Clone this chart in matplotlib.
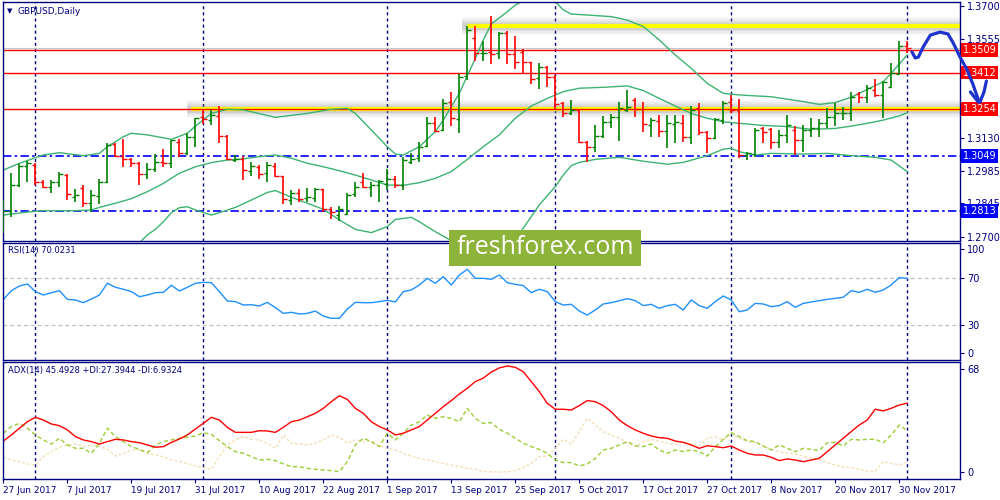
import numpy as np
import matplotlib
matplotlib.use("Agg")
import matplotlib.pyplot as plt
from matplotlib.patches import Rectangle
from matplotlib.transforms import blended_transform_factory

# ---- daily GBPUSD bars, 27 Jun 2017 .. 1 Dec 2017 ----
opens = [1.2745, 1.2814, 1.2925, 1.3009, 1.3013, 1.2937, 1.2915, 1.2936, 1.2970, 1.2875,
         1.2911, 1.2846, 1.2879, 1.2937, 1.3101, 1.3051, 1.3036, 1.3019, 1.2973, 1.2993,
         1.3025, 1.3022, 1.3113, 1.3062, 1.3134, 1.3218, 1.3206, 1.3224, 1.3137, 1.3033,
         1.3036, 1.2987, 1.3005, 1.2976, 1.3009, 1.2964, 1.2860, 1.2892, 1.2867, 1.2867,
         1.2906, 1.2820, 1.2795, 1.2798, 1.2885, 1.2936, 1.2918, 1.2925, 1.2928, 1.2950,
         1.2925, 1.3026, 1.3041, 1.3094, 1.3195, 1.3163, 1.3286, 1.3209, 1.3397, 1.3560,
         1.3495, 1.3499, 1.3495, 1.3582, 1.3492, 1.3502, 1.3456, 1.3387, 1.3437, 1.3394,
         1.3279, 1.3235, 1.3250, 1.3113, 1.3091, 1.3137, 1.3199, 1.3221, 1.3250, 1.3293,
         1.3253, 1.3185, 1.3202, 1.3159, 1.3189, 1.3195, 1.3134, 1.3257, 1.3156, 1.3127,
         1.3206, 1.3286, 1.3250, 1.3054, 1.3059, 1.3170, 1.3166, 1.3113, 1.3142, 1.3163,
         1.3120, 1.3163, 1.3170, 1.3192, 1.3221, 1.3235, 1.3238, 1.3319, 1.3305, 1.3336,
         1.3315, 1.3351, 1.3406, 1.3527]
highs = [1.2860, 1.2976, 1.3015, 1.3028, 1.3019, 1.2947, 1.2947, 1.2980, 1.2973, 1.2906,
         1.2925, 1.2903, 1.2951, 1.3108, 1.3108, 1.3124, 1.3041, 1.3026, 1.3019, 1.3058,
         1.3081, 1.3122, 1.3123, 1.3149, 1.3217, 1.3250, 1.3250, 1.3267, 1.3142, 1.3055,
         1.3051, 1.3026, 1.3012, 1.3026, 1.3019, 1.2966, 1.2903, 1.2906, 1.2913, 1.2913,
         1.2908, 1.2831, 1.2834, 1.2889, 1.2940, 1.2976, 1.2936, 1.2947, 1.2993, 1.2964,
         1.3048, 1.3062, 1.3113, 1.3221, 1.3221, 1.3297, 1.3326, 1.3406, 1.3613, 1.3615,
         1.3550, 1.3658, 1.3586, 1.3593, 1.3570, 1.3514, 1.3459, 1.3455, 1.3440, 1.3401,
         1.3286, 1.3293, 1.3252, 1.3117, 1.3185, 1.3224, 1.3231, 1.3286, 1.3336, 1.3303,
         1.3286, 1.3214, 1.3228, 1.3228, 1.3228, 1.3228, 1.3267, 1.3279, 1.3158, 1.3214,
         1.3289, 1.3315, 1.3297, 1.3069, 1.3170, 1.3178, 1.3173, 1.3163, 1.3228, 1.3180,
         1.3185, 1.3214, 1.3209, 1.3260, 1.3282, 1.3264, 1.3329, 1.3329, 1.3358, 1.3384,
         1.3375, 1.3452, 1.3549, 1.3549]
lows = [1.2716, 1.2788, 1.2918, 1.2940, 1.2925, 1.2911, 1.2889, 1.2918, 1.2860, 1.2853,
        1.2828, 1.2807, 1.2843, 1.2935, 1.3048, 1.3005, 1.3005, 1.2925, 1.2950, 1.2983,
        1.3005, 1.2997, 1.3048, 1.3055, 1.3091, 1.3188, 1.3185, 1.3108, 1.3033, 1.3026,
        1.2947, 1.2964, 1.2950, 1.2940, 1.2961, 1.2843, 1.2839, 1.2850, 1.2850, 1.2853,
        1.2807, 1.2777, 1.2771, 1.2795, 1.2875, 1.2911, 1.2875, 1.2850, 1.2903, 1.2911,
        1.2903, 1.3016, 1.3026, 1.3091, 1.3156, 1.3160, 1.3180, 1.3149, 1.3380, 1.3462,
        1.3462, 1.3448, 1.3469, 1.3448, 1.3426, 1.3411, 1.3361, 1.3339, 1.3348, 1.3250,
        1.3218, 1.3228, 1.3105, 1.3023, 1.3069, 1.3127, 1.3170, 1.3117, 1.3243, 1.3221,
        1.3153, 1.3134, 1.3132, 1.3084, 1.3105, 1.3110, 1.3104, 1.3142, 1.3065, 1.3123,
        1.3188, 1.3238, 1.3041, 1.3033, 1.3048, 1.3105, 1.3081, 1.3084, 1.3105, 1.3055,
        1.3069, 1.3132, 1.3132, 1.3170, 1.3180, 1.3206, 1.3204, 1.3282, 1.3279, 1.3308,
        1.3214, 1.3344, 1.3406, 1.3498]
closes = [1.2814, 1.2925, 1.3009, 1.3019, 1.2937, 1.2918, 1.2940, 1.2973, 1.2886, 1.2882,
          1.2849, 1.2882, 1.2937, 1.3098, 1.3051, 1.3036, 1.3019, 1.2973, 1.2993, 1.3026,
          1.3022, 1.3120, 1.3065, 1.3134, 1.3214, 1.3209, 1.3228, 1.3137, 1.3036, 1.3039,
          1.2990, 1.3007, 1.2973, 1.3012, 1.2966, 1.2863, 1.2892, 1.2863, 1.2872, 1.2906,
          1.2820, 1.2810, 1.2821, 1.2882, 1.2918, 1.2918, 1.2925, 1.2943, 1.2950, 1.2925,
          1.3033, 1.3036, 1.3091, 1.3195, 1.3160, 1.3279, 1.3214, 1.3394, 1.3596, 1.3495,
          1.3498, 1.3492, 1.3582, 1.3492, 1.3459, 1.3456, 1.3383, 1.3437, 1.3394, 1.3276,
          1.3235, 1.3250, 1.3113, 1.3091, 1.3137, 1.3199, 1.3221, 1.3257, 1.3264, 1.3253,
          1.3189, 1.3206, 1.3159, 1.3192, 1.3196, 1.3134, 1.3250, 1.3156, 1.3127, 1.3209,
          1.3279, 1.3250, 1.3055, 1.3062, 1.3163, 1.3156, 1.3113, 1.3142, 1.3185, 1.3120,
          1.3163, 1.3170, 1.3192, 1.3221, 1.3235, 1.3238, 1.3308, 1.3305, 1.3344, 1.3315,
          1.3372, 1.3411, 1.3527, 1.3517]

# Bollinger bands (20) sampled along the chart: bar index -> price
bb_up_idx = [0, 2, 5, 7, 10, 12, 13, 15, 16, 18, 21, 23, 24, 26, 28, 30, 34, 38, 41, 43,
             44, 46, 48, 49, 50, 52, 54, 55, 57, 59, 60, 61, 63, 64, 66, 68, 69, 70, 71, 73,
             76, 78, 80, 82, 84, 86, 88, 90, 92, 96, 100, 102, 104, 106, 108, 110, 111, 113]
bb_up = [1.2990, 1.3019, 1.3055, 1.3065, 1.3052, 1.3062, 1.3091, 1.3134, 1.3149, 1.3142,
         1.3123, 1.3149, 1.3180, 1.3235, 1.3253, 1.3250, 1.3218, 1.3235, 1.3253, 1.3257,
         1.3235, 1.3163, 1.3091, 1.3059, 1.3055, 1.3091, 1.3156, 1.3206, 1.3322, 1.3473,
         1.3553, 1.3622, 1.3675, 1.3704, 1.3740, 1.3733, 1.3719, 1.3683, 1.3665, 1.3661,
         1.3654, 1.3639, 1.3611, 1.3553, 1.3488, 1.3430, 1.3365, 1.3322, 1.3315, 1.3307,
         1.3286, 1.3274, 1.3282, 1.3305, 1.3339, 1.3372, 1.3409, 1.3488]
bb_mid_idx = [0, 3, 5, 9, 11, 12, 14, 16, 18, 20, 22, 24, 26, 28, 30, 32, 34, 36, 38, 40,
              42, 44, 46, 48, 50, 52, 54, 56, 58, 60, 62, 64, 66, 68, 70, 72, 75, 78, 80, 82,
              84, 86, 88, 90, 92, 95, 98, 101, 104, 106, 108, 110, 112, 113]
bb_mid = [1.2795, 1.2808, 1.2814, 1.2814, 1.2817, 1.2828, 1.2846, 1.2866, 1.2896, 1.2932,
          1.2976, 1.3004, 1.3022, 1.3033, 1.3038, 1.3048, 1.3055, 1.3041, 1.3019, 1.3004,
          1.2987, 1.2968, 1.2947, 1.2925, 1.2924, 1.2935, 1.2954, 1.2983, 1.3036, 1.3091,
          1.3142, 1.3214, 1.3267, 1.3300, 1.3329, 1.3344, 1.3348, 1.3354, 1.3334, 1.3300,
          1.3267, 1.3235, 1.3214, 1.3199, 1.3192, 1.3183, 1.3178, 1.3166, 1.3170, 1.3180,
          1.3192, 1.3206, 1.3224, 1.3238]
bb_low_idx = [14, 16, 17, 18, 19, 20, 21, 22, 23, 24, 26, 27, 29, 31, 33, 34, 36, 38, 40, 42,
              44, 46, 48, 49, 51, 52, 54, 56, 58, 60, 62, 63, 65, 67, 69, 70, 71, 72, 74, 77,
              80, 83, 85, 88, 90, 91, 92, 94, 96, 100, 103, 106, 109, 111, 113]
bb_low = [1.2586, 1.2622, 1.2675, 1.2709, 1.2733, 1.2766, 1.2805, 1.2827, 1.2831, 1.2817,
          1.2795, 1.2805, 1.2828, 1.2860, 1.2893, 1.2901, 1.2872, 1.2846, 1.2820, 1.2774,
          1.2733, 1.2719, 1.2745, 1.2776, 1.2785, 1.2766, 1.2723, 1.2684, 1.2629, 1.2593,
          1.2601, 1.2644, 1.2738, 1.2839, 1.2918, 1.2968, 1.3009, 1.3023, 1.3036, 1.3045,
          1.3028, 1.3015, 1.3023, 1.3052, 1.3080, 1.3084, 1.3069, 1.3055, 1.3062, 1.3059,
          1.3062, 1.3052, 1.3045, 1.3033, 1.2983]

rsi = [52.1, 59.5, 63.5, 65.2, 58.7, 55.8, 57.8, 59.5, 52.1, 51.6,
       49.3, 52.4, 55.8, 65.8, 62.4, 60.7, 58.7, 54.4, 55.8, 57.8,
       58.1, 64.1, 59.2, 62.4, 65.8, 66.6, 66.3, 58.7, 50.7, 50.2,
       47.3, 47.6, 46.5, 49.6, 45.1, 40.2, 41.1, 39.7, 40.2, 42.2,
       37.9, 36.0, 36.0, 43.9, 49.6, 49.3, 49.3, 50.2, 51.3, 49.9,
       58.7, 60.1, 64.3, 70.0, 65.8, 71.4, 64.3, 72.8, 77.7, 70.0,
       70.0, 69.2, 72.8, 66.3, 64.9, 63.8, 57.8, 60.7, 58.7, 50.2,
       47.3, 47.9, 42.2, 38.8, 43.1, 48.2, 49.3, 51.0, 52.7, 51.0,
       46.8, 47.9, 44.5, 46.8, 47.9, 43.1, 51.6, 46.8, 44.5, 50.2,
       55.0, 51.6, 41.6, 43.1, 48.7, 48.2, 45.9, 46.8, 50.2, 45.3,
       48.7, 49.9, 51.0, 52.1, 53.0, 53.9, 59.5, 58.1, 60.7, 58.1,
       60.1, 64.3, 70.6, 70.0]

adx = [20.6, 24.6, 29.0, 33.3, 36.2, 34.4, 31.8, 30.7, 27.9, 23.5,
       21.3, 20.2, 18.6, 20.2, 21.7, 21.3, 20.2, 19.5, 18.0, 16.5,
       16.9, 19.7, 21.9, 24.6, 28.5, 32.2, 36.2, 34.4, 29.6, 26.3,
       26.3, 26.3, 27.4, 27.2, 26.3, 29.6, 33.3, 34.4, 36.6, 38.8,
       42.1, 46.5, 50.4, 48.0, 42.1, 38.8, 33.3, 30.1, 27.9, 24.6,
       25.7, 27.9, 30.1, 34.4, 38.8, 43.2, 47.2, 51.5, 55.3, 59.7,
       62.0, 66.0, 68.7, 70.0, 69.1, 66.2, 59.7, 53.1, 45.4, 41.5,
       41.5, 41.0, 43.9, 47.2, 46.5, 43.9, 39.9, 34.4, 30.7, 27.9,
       25.7, 23.9, 22.8, 22.4, 20.6, 19.7, 18.0, 15.8, 17.5, 16.9,
       16.2, 17.3, 14.7, 12.5, 11.4, 11.4, 9.9, 7.7, 8.8, 8.1,
       7.0, 8.1, 9.2, 13.6, 18.0, 22.4, 26.8, 31.1, 34.4, 41.5,
       40.4, 42.1, 44.3, 45.5]
plus_di = [25.7, 30.1, 32.2, 29.0, 24.6, 21.3, 18.6, 22.4, 18.0, 15.8,
           15.8, 12.5, 19.1, 29.0, 23.5, 20.2, 16.9, 15.1, 12.9, 18.0,
           20.2, 21.3, 22.4, 23.0, 23.9, 26.1, 25.0, 20.8, 16.9, 13.6,
           12.5, 10.3, 8.1, 8.6, 7.7, 5.5, 3.7, 3.7, 2.6, 2.0,
           1.5, 1.1, 0.4, 7.0, 18.0, 22.4, 20.2, 16.9, 25.7, 21.3,
           25.7, 31.1, 33.3, 37.7, 35.5, 36.6, 35.5, 33.3, 42.1, 35.5,
           32.2, 32.7, 28.3, 25.7, 22.4, 19.1, 16.9, 15.1, 12.5, 8.1,
           6.4, 6.4, 4.2, 5.5, 9.2, 14.7, 15.8, 18.0, 20.2, 17.5,
           16.9, 18.6, 14.7, 12.5, 14.7, 13.6, 14.7, 13.6, 10.7, 16.9,
           21.7, 26.1, 23.5, 20.8, 20.2, 17.3, 14.7, 18.0, 15.8, 13.6,
           15.8, 15.1, 14.3, 19.5, 19.7, 17.3, 21.7, 21.3, 21.7, 21.7,
           19.5, 24.6, 31.1, 27.4]
minus_di = [9.9, 8.1, 7.0, 5.5, 4.8, 10.3, 13.6, 16.5, 18.0, 18.6,
            17.3, 18.0, 16.9, 15.1, 10.7, 12.5, 14.7, 14.7, 12.5, 11.4,
            10.3, 8.1, 7.0, 5.9, 4.2, 3.1, 2.0, 10.3, 18.0, 21.3,
            23.5, 21.7, 21.3, 19.1, 15.8, 24.6, 19.1, 18.6, 18.0, 19.1,
            21.3, 24.6, 23.0, 19.1, 21.3, 20.2, 20.6, 17.3, 15.8, 14.7,
            12.5, 10.7, 9.2, 8.1, 7.0, 5.9, 4.8, 3.7, 2.6, 2.0,
            0.5, 0.3, 0.2, 0.3, 1.1, 3.1, 5.9, 10.3, 10.7, 15.8,
            21.7, 18.6, 26.8, 35.5, 31.1, 26.8, 24.6, 22.4, 19.5, 16.9,
            20.2, 21.7, 20.2, 19.1, 18.6, 20.2, 18.6, 17.3, 22.4, 23.5,
            21.3, 25.7, 22.4, 20.2, 19.5, 17.3, 15.1, 13.6, 12.5, 12.1,
            10.7, 9.2, 8.6, 6.4, 4.8, 3.7, 3.1, 2.0, 0.9, 0.5,
            7.0, 5.9, 4.8, 6.9]

date_idx = [0, 8, 16, 24, 32, 40, 48, 56, 64, 72, 80, 88, 96, 104, 112]
date_labels = ["27 Jun 2017", "7 Jul 2017", "19 Jul 2017", "31 Jul 2017", "10 Aug 2017",
               "22 Aug 2017", "1 Sep 2017", "13 Sep 2017", "25 Sep 2017", "5 Oct 2017",
               "17 Oct 2017", "27 Oct 2017", "8 Nov 2017", "20 Nov 2017", "30 Nov 2017"]
month_starts = [4, 25, 48, 69, 91, 113]

price_ticks = [1.3700, 1.3555, 1.3130, 1.2985, 1.2845, 1.2700]
red_levels = [1.3509, 1.3412, 1.3254]
blue_levels = [1.3049, 1.2813]
yellow_levels = [1.3612, 1.3256]
yellow_start = [57.9, 23.5]

# hand drawn forecast arrow (bar index, price)
arrow_x = [113.6, 114.0, 114.4, 115.0, 115.9, 117.1, 118.1, 118.75, 119.6, 120.5, 121.25, 121.9]
arrow_y = [1.3501, 1.3475, 1.3479, 1.3523, 1.3574, 1.3587, 1.3579, 1.3540, 1.3479, 1.3423, 1.3358, 1.3293]
head_l_x, head_l_y = [120.9, 121.9], [1.3328, 1.3284]
head_r_x, head_r_y = [122.9, 122.6, 122.1], [1.3375, 1.3328, 1.3284]

NAVY = "#000080"
GREEN = "#008000"
RED = "#FF0000"
BB = "#3CB371"
W, H = 1000, 500
XMAX = 119.6

o, h, l, c = map(np.array, (opens, highs, lows, closes))
idx = np.arange(len(c))

fig = plt.figure(figsize=(10, 5), dpi=100)
ax = fig.add_axes([3 / W, 1 - 240.5 / H, 957 / W, 238.5 / H])
ax_rsi = fig.add_axes([3 / W, 1 - 360.3 / H, 957 / W, 117.6 / H])
ax_adx = fig.add_axes([3 / W, 1 - 479.3 / H, 957 / W, 117 / H])

for a in (ax, ax_rsi, ax_adx):
    a.set_xlim(-0.05, XMAX)
    for s in a.spines.values():
        s.set_color(NAVY)
        s.set_linewidth(1.0)
    a.yaxis.tick_right()
    a.tick_params(axis="y", length=3, color=NAVY, labelcolor=NAVY, labelsize=7, pad=2)
    a.tick_params(axis="x", bottom=False, labelbottom=False)
    for m in month_starts:
        a.axvline(m, color=NAVY, lw=1, ls=(0, (2.2, 2.2)), zorder=1)

# ---- main price panel ----
ax.set_ylim(1.26848, 1.37173)
ax.set_yticks(price_ticks)
ax.set_yticklabels(["%.4f" % p for p in price_ticks])

for lvl, x0 in zip(yellow_levels, yellow_start):
    for w, al in [(13, 0.07), (10, 0.09), (7, 0.12), (5, 0.15)]:
        ax.plot([x0 - 0.6, XMAX], [lvl, lvl], color="gray", lw=w, alpha=al,
                solid_capstyle="butt", zorder=1.5)
    ax.plot([x0, XMAX], [lvl, lvl], color="#FFFF00", lw=3, solid_capstyle="butt", zorder=1.6)

ax.axhline(c[-1], color="#C8C8C8", lw=0.8, zorder=1.7)
for lvl in red_levels:
    ax.axhline(lvl, color=RED, lw=1, zorder=1.8)
for lvl in blue_levels:
    ax.axhline(lvl, color="#0000FF", lw=1.2, ls=(0, (5, 2, 1.5, 2)), zorder=1.8)

ax.plot(bb_up_idx, bb_up, color=BB, lw=1, zorder=2)
ax.plot(bb_mid_idx, bb_mid, color=BB, lw=1, zorder=2)
ax.plot(bb_low_idx, bb_low, color=BB, lw=1, zorder=2)

cols = np.where(c >= o, GREEN, RED)
ax.vlines(idx, l, h, colors=cols, lw=1.2, zorder=3)
ax.hlines(o, idx - 0.45, idx, colors=cols, lw=1, zorder=3)
ax.hlines(c, idx, idx + 0.45, colors=cols, lw=1, zorder=3)

tr = blended_transform_factory(ax.transAxes, ax.transData)
for lvl in red_levels:
    ax.text(1 + 2.5 / 957, lvl, "%.4f" % lvl, transform=tr, ha="left", va="center",
            fontsize=7, color="white", zorder=5,
            bbox=dict(boxstyle="square,pad=0.2", fc=RED, ec="none"))
for lvl in blue_levels:
    ax.text(1 + 2.5 / 957, lvl, "%.4f" % lvl, transform=tr, ha="left", va="center",
            fontsize=7, color="white", zorder=5,
            bbox=dict(boxstyle="square,pad=0.2", fc="#0000FF", ec="none"))

ax.plot(arrow_x, arrow_y, color="#1c33cc", lw=2.3, clip_on=False, zorder=20,
        solid_capstyle="round", solid_joinstyle="round")
ax.plot(head_l_x, head_l_y, color="#1c33cc", lw=2.3, clip_on=False, zorder=20,
        solid_capstyle="round")
ax.plot(head_r_x, head_r_y, color="#1c33cc", lw=2.3, clip_on=False, zorder=20,
        solid_capstyle="round")

# ---- RSI ----
ax_rsi.set_ylim(0.3, 100.3)
ax_rsi.axhline(70, color="#C0C0C0", lw=0.9, ls=(0, (3, 2.5)))
ax_rsi.axhline(30, color="#C0C0C0", lw=0.9, ls=(0, (3, 2.5)))
ax_rsi.plot(idx, rsi, color="#1E90FF", lw=1)
ax_rsi.set_yticks([6.5, 30, 70, 95])
ax_rsi.set_yticklabels(["0", "30", "70", "100"])

# ---- ADX ----
ax_adx.set_ylim(-4.6, 72.4)
ax_adx.plot(idx, minus_di, color="#F5DEB3", lw=1, ls=(0, (2, 1.5)))
ax_adx.plot(idx, plus_di, color="#9ACD32", lw=1, ls=(0, (3, 2)))
ax_adx.plot(idx, adx, color=RED, lw=1)
ax_adx.set_yticks([0, 68])
ax_adx.set_yticklabels(["0", "68"])
ax_adx.set_xticks(date_idx)
ax_adx.set_xticklabels(date_labels)
ax_adx.tick_params(axis="x", bottom=True, labelbottom=True, length=3, color=NAVY,
                   labelcolor=NAVY, labelsize=6.4, pad=1.5)
for t in ax_adx.get_xticklabels():
    t.set_ha("left")

# ---- headers ----
fig.text(7 / W, 1 - 11 / H, "\u25BC", fontsize=5, color=NAVY, va="center")
fig.text(18 / W, 1 - 11 / H, "GBPUSD,Daily", fontsize=6.5, color=NAVY, va="center")
fig.text(8 / W, 1 - 251 / H, "RSI(14) 70.0231", fontsize=6, color=NAVY, va="center")
fig.text(8 / W, 1 - 371 / H, "ADX(14) 45.4928 +DI:27.3944 -DI:6.9324", fontsize=6,
         color=NAVY, va="center")

# ---- watermark ----
fig.patches.append(Rectangle((449 / W, 1 - 266 / H), 192 / W, 36 / H, transform=fig.transFigure,
                             facecolor="#8DB33A", edgecolor="none", zorder=30))
fig.text(545 / W, 1 - 248 / H, "freshforex.com", fontsize=18, color="white",
         family="Open Sans", ha="center", va="center", zorder=31)

fig.savefig("out.png", dpi=100)
